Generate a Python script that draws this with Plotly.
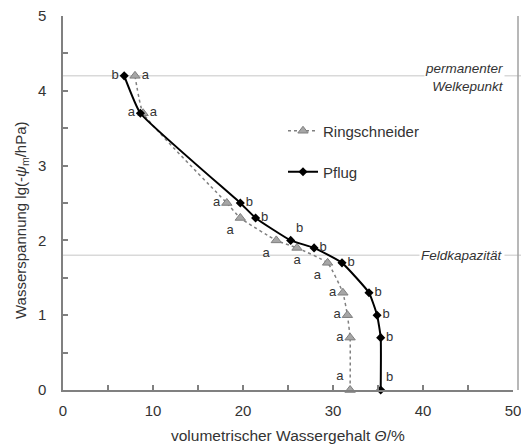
import plotly.graph_objects as go

# Data
pflug_theta = [6.8, 8.6, 19.7, 21.4, 25.3, 27.9, 31.0, 34.0, 34.9, 35.3, 35.3]
pflug_pf = [4.2, 3.7, 2.5, 2.3, 2.0, 1.9, 1.7, 1.3, 1.0, 0.7, 0.0]
pflug_letters = ["b", "a", "b", "b", "b", "b", "b", "b", "b", "b", "b"]

ring_theta = [8.0, 8.9, 18.2, 19.7, 23.7, 26.0, 29.4, 31.1, 31.6, 31.9, 31.9]
ring_pf = [4.2, 3.7, 2.5, 2.3, 2.0, 1.9, 1.7, 1.3, 1.0, 0.7, 0.0]
ring_letters = ["a", "a", "a", "a", "a", "a", "a", "a", "a", "a", "a"]

pwp_level = 4.2
fk_level = 1.8

pflug_pos = ["middle left", "middle left", "middle right", "middle right", "top right",
             "middle right", "middle right", "middle right", "middle right", "middle right", "top right"]
ring_pos = ["middle right", "middle right", "middle left", "bottom left", "bottom left",
            "bottom center", "bottom left", "middle left", "middle left", "middle left", "top left"]

FONT = "Liberation Sans, Arial, sans-serif"
W, H = 529, 445
OFF = 8  # page body margin
L, T = 55, 8
pw, ph = 450, 374
R = W - L - pw
B = H - T - ph


def pxx(page_x):
    return (page_x - OFF - L) / pw


def pxy(page_y):
    return (T + ph - (page_y - OFF)) / ph


fig = go.Figure()

fig.add_trace(go.Scatter(
    x=ring_theta, y=ring_pf, name="Ringschneider",
    mode="lines+markers+text", text=ring_letters, textposition=ring_pos,
    textfont=dict(size=13, color="#333333", family=FONT),
    line=dict(color="#808080", width=1.5, dash="dot", shape="spline", smoothing=0.4),
    marker=dict(symbol="triangle-up", size=9, color="#a6a6a6", line=dict(color="#7f7f7f", width=1)),
    legend="legend", cliponaxis=False,
))
fig.add_trace(go.Scatter(
    x=pflug_theta, y=pflug_pf, name="Pflug",
    mode="lines+markers+text", text=pflug_letters, textposition=pflug_pos,
    textfont=dict(size=13, color="#333333", family=FONT),
    line=dict(color="#000000", width=2, shape="spline", smoothing=0.4),
    marker=dict(symbol="diamond", size=7, color="#000000"),
    legend="legend2", cliponaxis=False,
))

# reference lines (field capacity, permanent wilting point)
for lvl in [pwp_level, fk_level]:
    fig.add_shape(type="line", xref="paper", yref="y", x0=0, x1=pxx(529), y0=lvl, y1=lvl,
                  line=dict(color="#d9d9d9", width=1.5), layer="below")

# right frame line
fig.add_shape(type="line", xref="paper", yref="paper", x0=pxx(518), x1=pxx(518),
              y0=0, y1=1, line=dict(color="#a0a0a0", width=1.5))

ann_font = dict(size=13.5, color="#333333", family=FONT)
fig.add_annotation(text="<i>permanenter<br>Welkepunkt</i>", xref="paper", yref="paper",
                   x=pxx(505), y=pxy(77), xanchor="right", yanchor="middle", align="right",
                   showarrow=False, bgcolor="white", borderpad=0, font=ann_font)
fig.add_annotation(text="<i>Feldkapazität</i>", xref="paper", yref="y",
                   x=pxx(505), y=fk_level, xanchor="right", yanchor="middle", align="right",
                   showarrow=False, bgcolor="white", font=ann_font)

# axis titles
fig.add_annotation(text="volumetrischer Wassergehalt <i>Θ</i>/%", xref="paper", yref="paper",
                   x=0.5, y=pxy(435), xanchor="center", yanchor="middle", showarrow=False,
                   font=dict(size=15.5, color="#333333", family=FONT))
fig.add_annotation(text="Wasserspannung lg(-<i>ψ</i><sub>m</sub>/hPa)", xref="paper", yref="paper",
                   x=pxx(22), y=pxy(220), xanchor="center", yanchor="middle", showarrow=False,
                   textangle=-90, font=dict(size=15, color="#333333", family=FONT))

axis_common = dict(showgrid=False, zeroline=False, showline=True, linecolor="#808080", linewidth=1.5,
                   ticks="inside", ticklen=5, tickcolor="#808080", tickwidth=1.5,
                   ticklabeloverflow="allow",
                   tickfont=dict(size=15, color="#333333", family=FONT))

fig.update_xaxes(range=[0, 50], dtick=10, tick0=0, ticklabelstandoff=6,
                 minor=dict(ticks="inside", dtick=5, ticklen=5, tickcolor="#808080", tickwidth=1.5),
                 **axis_common)
fig.update_yaxes(range=[0, 5], dtick=1, tick0=0, ticklabelstandoff=12,
                 minor=dict(ticks="inside", dtick=0.5, ticklen=5, tickcolor="#808080", tickwidth=1.5),
                 **axis_common)

fig.update_layout(
    width=W, height=H,
    margin=dict(l=L, r=R, t=T, b=B, autoexpand=False),
    paper_bgcolor="white", plot_bgcolor="white",
    showlegend=True,
    font=dict(family=FONT, color="#333333"),
    legend=dict(x=pxx(283), y=pxy(131), xanchor="left", yanchor="middle",
                bgcolor="rgba(0,0,0,0)", font=dict(size=15, color="#333333", family=FONT)),
    legend2=dict(x=pxx(283), y=pxy(172), xanchor="left", yanchor="middle",
                 bgcolor="rgba(0,0,0,0)", font=dict(size=15, color="#333333", family=FONT)),
)

fig.write_html("out.html")
